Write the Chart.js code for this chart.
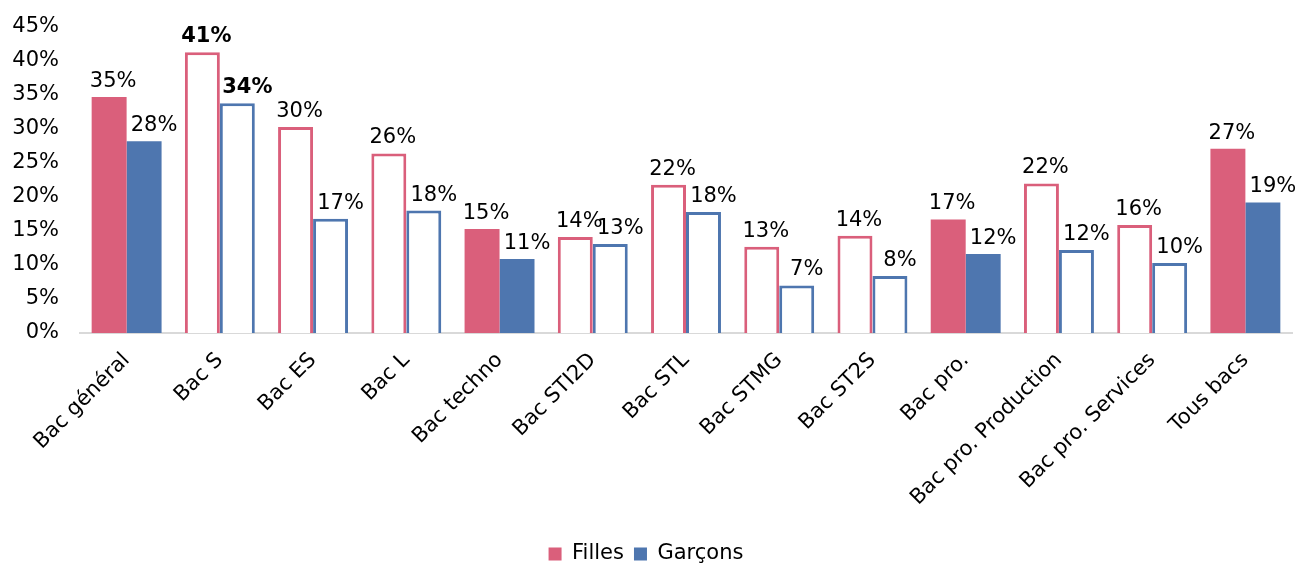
<!DOCTYPE html>
<html><head><meta charset="utf-8">
<script src="https://cdn.jsdelivr.net/npm/chart.js@4"></script>
<style>html,body{margin:0;padding:0;background:#fff}#wrap{width:1295px;height:566px;position:relative}</style>
</head><body><div id="wrap"><canvas id="c"></canvas></div>
<script>
const categories = ["Bac général","Bac S","Bac ES","Bac L","Bac techno","Bac STI2D","Bac STL","Bac STMG","Bac ST2S","Bac pro.","Bac pro. Production","Bac pro. Services","Tous bacs"];
const filles  = [34.7, 41.3, 30.3, 26.4, 15.3, 14.1, 21.8, 12.7, 14.3, 16.7, 22.0, 15.9, 27.1];
const garcons = [28.2, 33.8, 16.8, 18.0, 10.9, 13.1, 17.8, 7.0, 8.4, 11.6, 12.2, 10.3, 19.2];
const aggregateCategory = [true,false,false,false,true,false,false,false,false,true,false,false,true];
const boldLabelCategory = [false,true,false,false,false,false,false,false,false,false,false,false,false];
const yMin = 0, yMax = 45, yStep = 5;

const PINK = '#DA5F7B', BLUE = '#4E76AF';
const FONT = '"DejaVu Sans", sans-serif';
const FS = 21;
const LEGEND_CENTER_Y = 554;

function fillFor(color){ return c => (c.type==='data' && !aggregateCategory[c.dataIndex]) ? '#ffffff' : color; }
const bw = c => (c.type==='data' && !aggregateCategory[c.dataIndex]) ? 3 : 0;

const valueLabels = {
  id:'valueLabels',
  afterDatasetsDraw(chart){
    const ctx = chart.ctx;
    chart.data.datasets.forEach((ds,di)=>{
      const meta = chart.getDatasetMeta(di);
      meta.data.forEach((el,i)=>{
        ctx.save();
        ctx.font = (boldLabelCategory[i]?'bold ':'') + FS + 'px ' + FONT;
        ctx.fillStyle = '#000';
        ctx.textAlign = 'center';
        ctx.textBaseline = 'alphabetic';
        ctx.fillText(Math.round(ds.data[i]) + '%', el.x + (di===0?4:10), el.y - 10);
        ctx.restore();
      });
    });
  }
};

const legendShift = {
  id:'legendShift',
  afterLayout(chart){
    const lg = chart.legend;
    if(!lg) return;
    const shift = LEGEND_CENTER_Y - (lg.top + lg.height/2);
    lg.top += shift; lg.bottom += shift;
  }
};

new Chart(document.getElementById('c'), {
  type:'bar',
  data:{
    labels: categories,
    datasets:[
      {label:'Filles', data:filles, backgroundColor:fillFor(PINK), borderColor:PINK, borderWidth:bw, borderSkipped:'start'},
      {label:'Garçons', data:garcons, backgroundColor:fillFor(BLUE), borderColor:BLUE, borderWidth:bw, borderSkipped:'start'}
    ]
  },
  options:{
    responsive:true, maintainAspectRatio:false, animation:false,
    datasets:{bar:{categoryPercentage:0.75, barPercentage:1.0}},
    layout:{padding:{top:27,right:3,left:0,bottom:0}},
    plugins:{
      legend:{position:'bottom', labels:{boxWidth:13, boxHeight:13, color:'#000', padding:10, font:{size:FS, family:FONT}}},
      tooltip:{enabled:false}
    },
    scales:{
      x:{
        grid:{display:true, drawOnChartArea:false, drawTicks:false},
        border:{display:true, color:'#D9D9D9', width:2},
        ticks:{color:'#000', font:{size:FS, family:FONT}, minRotation:45, maxRotation:45, padding:15, autoSkip:false},
        afterFit(s){ s.height = 192; }
      },
      y:{
        min:yMin, max:yMax,
        grid:{display:false, drawTicks:false},
        border:{display:false},
        ticks:{stepSize:yStep, color:'#000', font:{size:FS, family:FONT}, padding:21, callback:v=>v+'%'},
        afterFit(s){ s.width = 80; s.paddingTop = 0; s.paddingBottom = 0; }
      }
    }
  },
  plugins:[valueLabels, legendShift]
});
</script></body></html>
